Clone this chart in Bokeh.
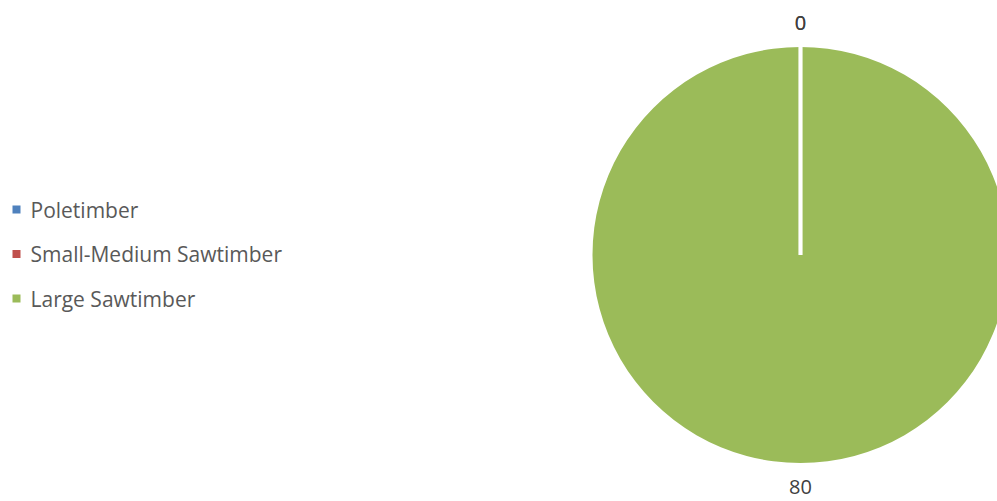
import math
from bokeh.plotting import figure
from bokeh.models import Range1d, ColumnDataSource
from bokeh.core.properties import value
from bokeh.embed import file_html
from bokeh.resources import INLINE

categories = ["Poletimber", "Small-Medium Sawtimber", "Large Sawtimber"]
values = [0, 0, 80]
colors = ["#4F81BD", "#C0504D", "#9BBB59"]

W, H = 997, 501
p = figure(width=W, height=H, output_backend="svg", toolbar_location=None,
           x_range=Range1d(0, W), y_range=Range1d(0, H), min_border=0)
p.axis.visible = False
p.grid.visible = False
p.outline_line_color = None
p.background_fill_color = "white"

cx, cy, R = 800, 246.5, 208
LR = 232
total = sum(values)
starts, ends, lx, ly, labels, wcol, bx, by = [], [], [], [], [], [], [], []
cum = 0
for v, c in zip(values, colors):
    a0 = math.pi / 2 - cum / total * 2 * math.pi
    cum += v
    a1 = math.pi / 2 - cum / total * 2 * math.pi
    mid = (a0 + a1) / 2
    lx.append(cx + LR * math.cos(mid))
    ly.append(cy + LR * math.sin(mid))
    labels.append(str(v))
    bx.append(cx + R * math.cos(a0))
    by.append(cy + R * math.sin(a0))
    if v > 0:
        starts.append(a0)
        ends.append(a1 + 1e-4)
        wcol.append(c)

wsrc = ColumnDataSource(dict(start=starts, end=ends, color=wcol))
p.wedge(x=cx, y=cy, radius=R, radius_units="screen", start_angle="start", end_angle="end",
        direction="clock", fill_color="color", line_color=None, source=wsrc)
# slice borders (white separators)
bsrc = ColumnDataSource(dict(x0=[cx] * len(values), y0=[cy] * len(values), x1=bx, y1=by))
p.segment(x0="x0", y0="y0", x1="x1", y1="y1", line_color="white", line_width=3.5, source=bsrc)

lsrc0 = ColumnDataSource(dict(lx=lx, ly=ly, label=labels))
p.text(x="lx", y="ly", text="label", source=lsrc0, text_font=value("Open Sans"),
       text_font_size="20px", text_color="#404040", text_align="center", text_baseline="middle")

# legend
leg_y = [H - 209 - i * 44.5 for i in range(len(categories))]
lsrc = ColumnDataSource(dict(x=[16] * 3, y=leg_y, color=colors, name=categories, tx=[30] * 3))
p.scatter(x="x", y="y", marker="square", size=8, fill_color="color", line_color=None, source=lsrc)
p.text(x="tx", y="y", text="name", source=lsrc, text_font=value("Open Sans"),
       text_font_size="21px", text_color="#595959", text_baseline="middle")

open("out.html", "w").write(file_html(p, INLINE))
